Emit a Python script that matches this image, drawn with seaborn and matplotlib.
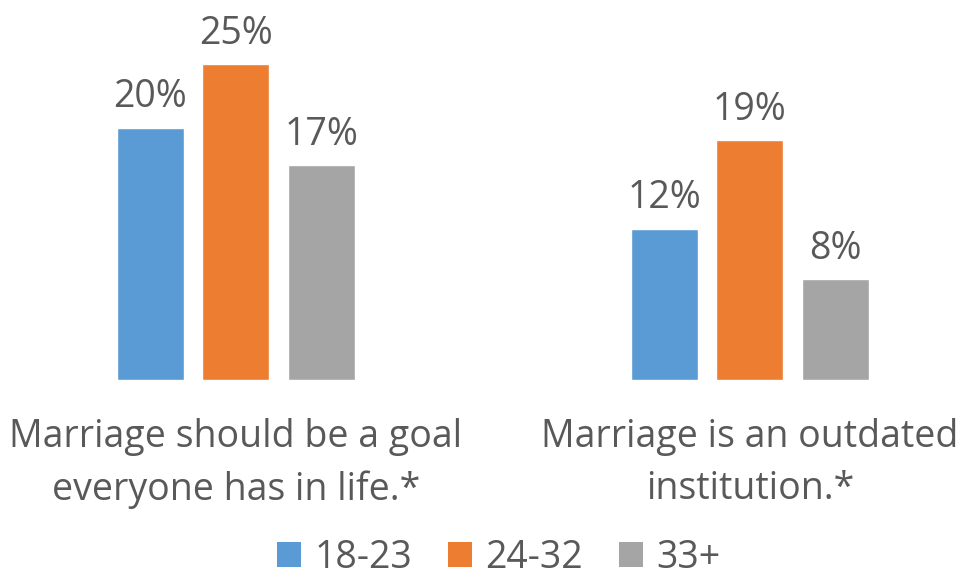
import pandas as pd
import seaborn as sns
import matplotlib.pyplot as plt
from matplotlib.patches import Patch

# data -----------------------
statements = ["Marriage should be a goal\neveryone has in life.*",
              "Marriage is an outdated\ninstitution.*"]
age_groups = ["18-23", "24-32", "33+"]
goal_vals = [20, 25, 17]
outdated_vals = [12, 19, 8]
colors = ["#5B9BD5", "#ED7D31", "#A5A5A5"]

df = pd.DataFrame({
    "statement": [statements[0]] * 3 + [statements[1]] * 3,
    "age": age_groups * 2,
    "pct": goal_vals + outdated_vals,
})

sns.set_style("white")
plt.rcParams["font.family"] = ["Open Sans", "DejaVu Sans"]
txt = "#595959"
fs = 27

fig = plt.figure(figsize=(9.59, 5.77), dpi=100)
ax = fig.add_axes([0, 0.3414, 1, 0.6586])

sns.barplot(data=df, x="statement", y="pct", hue="age",
            palette=colors, width=0.5, gap=0.22, saturation=1,
            legend=False, ax=ax)

for c in ax.containers:
    ax.bar_label(c, fmt="{:.0f}%", padding=8, fontsize=fs, color=txt)

ax.set_ylim(0, 30.1)
ax.set_xlim(-0.459, 1.407)
ax.set_yticks([])
ax.set_xlabel("")
ax.set_ylabel("")
ax.tick_params(axis="x", length=0, pad=27, labelsize=fs, labelcolor=txt)
for lab in ax.get_xticklabels():
    lab.set_linespacing(1.5)
sns.despine(ax=ax, left=True, bottom=True)

handles = [Patch(facecolor=c, edgecolor="none") for c in colors]
fig.legend(handles, age_groups, loc="lower center", ncol=3, frameon=False,
           fontsize=fs, labelcolor=txt, bbox_to_anchor=(0.52, -0.058),
           handlelength=0.65, handleheight=0.65, handletextpad=0.35,
           columnspacing=0.95)

fig.savefig("out.png", dpi=100)
